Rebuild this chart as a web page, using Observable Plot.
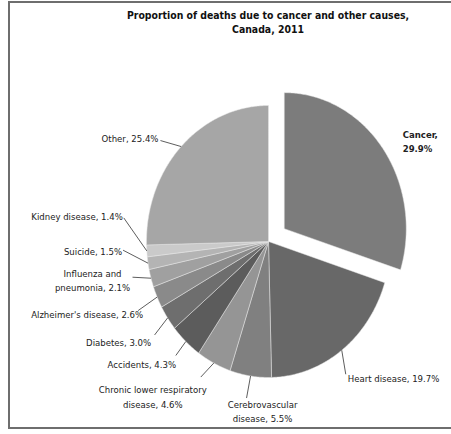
<!DOCTYPE html>
<html><head><meta charset="utf-8">
<script src="https://cdn.jsdelivr.net/npm/d3@7"></script>
<script src="https://cdn.jsdelivr.net/npm/@observablehq/plot@0.6"></script>
<style>
body{margin:0;background:#fff;}
#wrap{position:relative;width:451px;height:434px;overflow:hidden;}
#border{position:absolute;left:8px;top:1px;width:470px;height:428px;border:2px solid #6e6e6e;box-sizing:border-box;}
#chart{position:absolute;left:0;top:0;}
</style></head><body>
<div id="wrap"><div id="border"></div><div id="chart"></div></div>
<script>
// ---- data ----
const categories = ["Cancer","Heart disease","Cerebrovascular disease","Chronic lower respiratory disease","Accidents","Diabetes","Alzheimer's disease","Influenza and pneumonia","Suicide","Kidney disease","Other"];
const values = [29.9,19.7,5.5,4.6,4.3,3.0,2.6,2.1,1.5,1.4,25.4];
const titleLines = ["Proportion of deaths due to cancer and other causes,","Canada, 2011"];

// ---- styles / layout ----
const sliceColors = ["#7c7c7c","#686868","#808080","#959595","#5c5c5c","#6e6e6e","#8a8a8a","#a0a0a0","#b4b4b4","#cacaca","#a6a6a6"];
// explode (radius units), leader offset (px), text offset from leader end (px), anchor, words on 1st line, bold
const layout = [
  {explode:0.16, lead:[0,0],      text:[20,-8],   anchor:"start",  wrap:1, bold:true},
  {explode:0,    lead:[4,24],     text:[2,3],     anchor:"start",  wrap:0},
  {explode:0,    lead:[-4,22],    text:[16,12.5], anchor:"middle", wrap:1},
  {explode:0,    lead:[-13,14],   text:[-48,19],  anchor:"middle", wrap:3},
  {explode:0,    lead:[-10,14],   text:[-34,8],   anchor:"middle", wrap:0},
  {explode:0,    lead:[-13,17],   text:[-36,6],   anchor:"middle", wrap:0},
  {explode:0,    lead:[-19,13.5], text:[5,3],     anchor:"end",    wrap:0},
  {explode:0,    lead:[-18.5,-1], text:[-40,2],   anchor:"middle", wrap:2},
  {explode:0,    lead:[-25,-13],  text:[-1,0],    anchor:"end",    wrap:0},
  {explode:0,    lead:[-23,-33],  text:[-1,-2],   anchor:"end",    wrap:0},
  {explode:0,    lead:[-20.7,-6], text:[-2,-3],   anchor:"end",    wrap:0}
];
const W = 451, H = 434, CX = 268, CY = 241, RX = 122, RY = 136;
const FONT = "'DejaVu Sans Condensed','DejaVu Sans',sans-serif";

const data = categories.map((name, i) => ({name, value: values[i], color: sliceColors[i], ...layout[i]}));
const arcs = d3.pie().sort(null).value(d => d.value)(data);

const polys = [];
const labels = [];
arcs.forEach((a, i) => {
  const d = a.data;
  const mid = (a.startAngle + a.endAngle) / 2;
  const ox = d.explode * Math.sin(mid), oy = d.explode * Math.cos(mid);
  polys.push({name: d.name, color: d.color, u: ox, v: oy});
  const n = Math.max(2, Math.ceil((a.endAngle - a.startAngle) / 0.01));
  for (let k = 0; k <= n; k++) {
    const t = a.startAngle + (a.endAngle - a.startAngle) * k / n;
    polys.push({name: d.name, color: d.color, u: ox + Math.sin(t), v: oy + Math.cos(t)});
  }
  polys.push({name: d.name, color: d.color, u: ox, v: oy});
  const ru = ox + Math.sin(mid), rv = oy + Math.cos(mid);
  const lu = ru + d.lead[0] / RX, lv = rv - d.lead[1] / RY;
  const words = `${d.name}, ${d.value.toFixed(1)}%`.split(" ");
  const text = d.wrap ? words.slice(0, d.wrap).join(" ") + "\n" + words.slice(d.wrap).join(" ") : words.join(" ");
  labels.push({ru, rv, lu, lv, tu: lu + d.text[0] / RX, tv: lv - d.text[1] / RY, text, anchor: d.anchor, bold: !!d.bold,
    hasLead: d.lead[0] !== 0 || d.lead[1] !== 0});
});

const textMark = (filter, anchor, bold) => Plot.text(labels.filter(filter), {
  x: "tu", y: "tv", text: "text", textAnchor: anchor, lineHeight: 1.5,
  fontSize: 9.5, fontWeight: bold ? "bold" : "normal", fill: "#222", fontFamily: FONT
});

const chart = Plot.plot({
  width: W, height: H, margin: 0,
  x: {domain: [-CX / RX, (W - CX) / RX], axis: null},
  y: {domain: [(CY - H) / RY, CY / RY], axis: null},
  style: {fontFamily: FONT, background: "transparent"},
  marks: [
    Plot.line(polys, {x: "u", y: "v", z: "name", fill: "color", stroke: "#e6e6e6", strokeWidth: 0.5, curve: "linear"}),
    Plot.link(labels.filter(d => d.hasLead), {x1: "ru", y1: "rv", x2: "lu", y2: "lv", stroke: "#333", strokeWidth: 0.8}),
    textMark(d => !d.bold && d.anchor === "start", "start", false),
    textMark(d => !d.bold && d.anchor === "middle", "middle", false),
    textMark(d => !d.bold && d.anchor === "end", "end", false),
    textMark(d => d.bold, "start", true),
    Plot.text([titleLines.join("\n")], {frameAnchor: "top", dx: 42, dy: 8, lineAnchor: "top", lineHeight: 1.4,
      fontSize: 10.4, fontWeight: "bold", fill: "#111", fontFamily: FONT})
  ]
});
document.getElementById("chart").appendChild(chart);
</script>
</body></html>
